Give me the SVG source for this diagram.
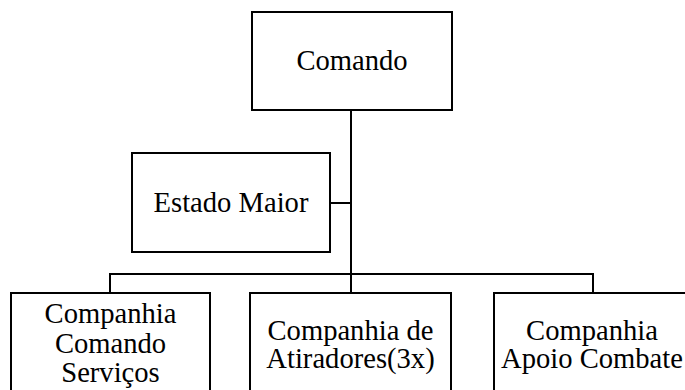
<svg xmlns="http://www.w3.org/2000/svg" width="685" height="390" viewBox="0 0 685 390">
<style>
.box{fill:#fff;stroke:#000;stroke-width:2}
.ln{fill:none;stroke:#000;stroke-width:2}
text{font-family:"Liberation Serif","Times New Roman",serif;font-size:28.6px;fill:#000;text-anchor:middle}
</style>
<rect width="685" height="390" fill="#fff"/>
<g id="connectors">
<path class="ln" d="M351 110 V293"/>
<path class="ln" d="M330 203 H351"/>
<path class="ln" d="M110 293 V274 H593 V293"/>
</g>
<g id="comando">
<rect class="box" x="252" y="12" width="200" height="98"/>
<text x="352" y="70">Comando</text>
</g>
<g id="estado-maior">
<rect class="box" x="132" y="153" width="198" height="99"/>
<text x="231" y="212">Estado Maior</text>
</g>
<g id="cia-comando-servicos">
<rect class="box" x="11" y="293" width="199" height="110"/>
<text x="110.5" y="323">Companhia</text>
<text x="110.5" y="353">Comando</text>
<text x="110.5" y="382">Serviços</text>
</g>
<g id="cia-atiradores">
<rect class="box" x="250" y="293" width="201" height="110"/>
<text x="350.5" y="340">Companhia de</text>
<text x="350.5" y="368">Atiradores(3x)</text>
</g>
<g id="cia-apoio-combate">
<rect class="box" x="494" y="293" width="196" height="110"/>
<text x="592" y="340">Companhia</text>
<text x="592" y="368">Apoio Combate</text>
</g>
</svg>
